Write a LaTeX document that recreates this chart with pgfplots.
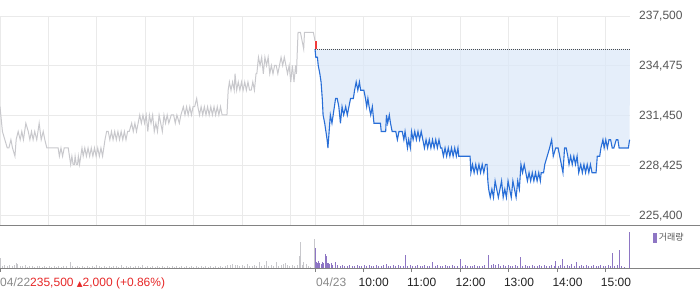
\documentclass[border=0pt]{standalone}
\usepackage{pgfplots}
\usepackage{pgfplotstable}
\pgfplotsset{compat=1.18}
\usepgfplotslibrary{fillbetween}
\usepackage{fontspec}
\setmainfont{Liberation Sans}
\newfontfamily\sym{DejaVu Sans}
\newfontfamily\kr{Noto Sans CJK KR}
\definecolor{gridc}{RGB}{234,234,234}
\definecolor{axisc}{RGB}{130,130,130}
\definecolor{graylinec}{RGB}{200,200,204}
\definecolor{bluec}{RGB}{40,110,215}
\definecolor{fillc}{RGB}{220,232,248}
\definecolor{redc}{RGB}{240,60,60}
\definecolor{volgray}{RGB}{200,200,204}
\definecolor{volpurple}{RGB}{142,118,196}
\definecolor{labelc}{RGB}{85,85,85}
\definecolor{dategray}{RGB}{136,136,136}
\definecolor{upred}{RGB}{230,40,40}
\definecolor{hourc}{RGB}{34,34,34}

% 04/22 price, x = minutes since 04/22 09:00
\pgfplotstableread{
m p
0 232000
3 230500
6 230000
9 229500
11 229500
13.5 230000
15.5 229500
18.5 229000
20 230000
22.5 230500
25 230000
27 230500
29 230000
32 231000
35 230500
37 230000
39 230500
41 230000
43 230500
45.5 230000
48.5 231000
51 230000
53.5 230500
55.5 230000
58 229500
72 229500
73.5 229000
75.5 229500
77.5 229000
79.5 229500
84.5 229500
87.5 228500
89 229000
90.5 228500
92 228500
93 229000
94.5 228500
96 228500
97 229000
98.5 228500
100 229000
101.5 229500
103 229000
105 229500
107 229000
109 229500
111 229000
113 229500
115 229000
117 229500
119 229000
121 229500
123 229000
125 229500
127 229000
130 230000
132 230500
134 230500
136 230000
138 230500
140 230000
142 230500
144 230000
146 230500
148 230000
150 230500
152 230000
154 230500
156 230000
158 230500
160 230500
163 231000
165 230500
167 231000
169 230500
171 231000
173 231500
175 231000
177 231500
179 231000
181 231500
183 230500
185 231500
187 231000
189 231500
191 230500
193 231000
195 230500
197 231500
199 231000
201 230500
203 231500
205 231000
207 231500
209 231000
212 231500
215 231500
217 231000
219 231500
222 231000
224 231500
227 232000
229 231500
231 232000
233 231500
235 232000
237 231500
239 232000
241 232000
243.5 232500
245 232000
247 231500
249 232000
251 231500
253 232000
255 231500
257 232000
259 231500
261 232000
263 231500
265 232000
267 231500
269 232000
271 231500
273 232000
275 231500
281 231500
282.5 233000
284 233500
286 233000
288 233500
290 233000
291 234000
293 233000
295 233500
297 233000
299 233500
301 233000
303 233500
305 233000
307 233500
309 233000
311 233000
313 233500
315 233000
317 234000
318 234000
320 235000
322 234500
324 235000
326 234000
328 235000
330 234500
332 235000
334 234000
336 234500
338 234000
340 234500
342 234500
344 234000
346 234500
348 235000
350 234500
352 235000
354 234500
356 234000
358 234500
360 233500
362 234500
364 233500
366 234500
367 234000
369 236500
372 236500
374 236000
376 235500
377 236500
380 236500
388 236500
390 236000
}\dayone

% 04/23 price
\pgfplotstableread{
m p
390 235500
391 235000
393 235000
394 234500
396 234000
397.5 233500
399 232500
400 231500
402 231000
403.5 230500
405 230000
406 229500
407.5 230500
409 231500
411 231000
412.5 231500
414 232000
415.5 232500
417.5 232500
419.5 232000
421.5 231000
423.5 232000
425.5 231500
428 232000
430 231500
432 232000
434 232500
437.5 232500
439 233000
441 233500
443 233000
445 233500
446.5 233000
450.5 233000
452.5 232500
454 232000
455.5 232500
457 232000
459 231500
461 232000
463 231000
471 231000
472 230500
477.5 230500
478.5 231500
480 231000
482 231500
483.5 231000
485.5 230500
490 230500
492 230000
494 230500
498 230500
500 230000
501.5 230500
503 230000
504.5 229500
506 230000
508 229500
509.5 230500
511.5 230000
513.5 230500
515.5 230000
517.5 230500
519.5 230000
521.5 230500
523.5 230000
525.5 229500
527.5 230000
529.5 229500
531.5 230000
533.5 229500
535.5 230000
537.5 229500
539.5 230000
541.5 229500
543.5 230000
545.5 229500
547 229500
549 229000
551 229500
553 229000
555 229500
557 229000
559 229500
561 229000
563 229500
565 229000
567 229500
568 229000
582 229000
583 228000
585 228500
587 228000
589 228500
591 228000
593 228500
595 228000
597 228500
599 228000
601 228500
603 228500
604 227500
605 227000
607 226500
609 227000
611 226500
613 227500
615 227000
617 226500
619 227000
621 227500
623 226500
625 227000
627 226500
629 227500
631 227000
633 226500
635 227500
637 227000
639 226500
641 227500
643 227000
645 228500
647 228000
649 228500
651 228000
653 227500
655 228000
657 227500
659 228000
661 227500
663 228000
665 227500
667 228000
669 227500
670 228000
673 228000
674.5 228500
677.5 229000
680.5 229500
683 230000
685 229000
688 229500
691 229500
693 229000
695 228500
697 228000
699 229500
701 229500
703 229000
704.5 228500
706.5 229000
708.5 228500
710.5 229000
712.5 228500
714.5 229000
716.5 228000
719 228500
721 228000
723 228500
725 228000
727 228500
729 228000
731 228500
733 228000
738 228000
739.5 229000
742.5 229000
744 229500
746.5 230000
748 229500
750 230000
752 229500
754 230000
756 230000
758 229500
760 229500
763 230000
765 230000
766.5 229500
778 229500
779.5 230000
}\daytwo

% volume, 04/22
\pgfplotstableread{
m v
0 10
3 2
6 3
9 2
12 3
15 2
18 3
20 5
22 4
25 2
28 2
31 3
34 1
37 2
40 2
43 1
46 2
49 2
52 1
55 2
58 1
61 2
64 1
67 2
70 1
73 2
76 1
79 2
82 2
87 6
90 2
93 1
96 2
99 1
102 2
105 1
108 2
111 1
114 2
117 1
120 3
123 2
126 1
129 2
132 1
135 2
138 1
141 2
144 2
147 1
150 3
153 1
156 2
159 1
162 2
165 1
168 2
171 2
174 1
177 3
180 1
183 2
186 1
189 2
192 1
195 2
198 1
201 2
204 1
207 2
210 1
213 2
216 1
219 2
222 1
225 2
228 1
231 2
234 1
237 2
240 1
243 2
246 1
249 2
252 1
255 2
258 1
261 2
264 1
267 2
270 1
273 2
276 1
279 2
282 3
285 3
288 4
291 3
294 3
297 2
300 3
303 2
306 4
309 2
312 2
315 3
318 2
321 6
324 2
327 3
330 7
333 2
336 3
339 2
342 6
345 2
348 3
351 4
353 5
356 3
359 2
362 3
365 2
368 3
370.5 12
372 26
374 3
376 6
379 4
382 2
385 1
389 29
}\volone

% volume, 04/23
\pgfplotstableread{
m v
390 20
391.5 6
393 5
394.5 7
396 5
397.5 4
399 6
400.5 5
402.5 14
404 12
405.5 5
407 5
408.5 4
410 5
412 3
415 6
418 3
421 2
424 3
427 2
430 2
433 3
436 2
439 2
442 3
445 2
448 2
451 3
454 2
457 3
460 2
463 2
466 3
469 2
472 2
475 3
478.5 4
481 2
484 2
487 3
490 2
493 3
496 2
499 2
502.5 13
505 2
508 3
511 2
514 2
517 3
520 2
523 2
526 3
529 2
532 2
536 6
539 2
542 3
545 2
548 2
551 3
554 2
557 2
560 3
563 2
566 2
570 9
573 2
576 3
579 2
582 2
585 2
588 3
591 2
594 2
597 2
600 3
605 13
608 3
611 4
614 3
617 4
620 2
623 3
626 2
629 3
632 2
635 2
638 3
641 2
644.5 11
647 2
650 3
653 2
656 2
659 3
662 2
665 2
668 3
671 2
674 3
677 2
680 2
683 3
686 2
688 7
691 2
694 3
696 9
699 2
702 3
705 2
708 4
711 2
714 6
717 2
720 3
723 2
726 3
729 2
732 2
735 3
738 2
741 2
744 3
747 2
750 2
753 3
756 2
758 15
761 2
764 3
767 18
770 2
773 1
779 36
}\voltwo

\begin{document}
\begin{tikzpicture}
% price panel
\begin{axis}[
  at={(0pt,64pt)}, anchor=south west, scale only axis,
  width=630pt, height=209pt,
  xmin=0, xmax=780, ymin=224830, ymax=237500,
  axis line style={draw=none},
  major tick length=0pt,
  scaled y ticks=false,
  xtick={0,60,120,180,240,300,360,390,450,510,570,630,690,750},
  xticklabel=\empty,
  ytick={225400,228425,231450,234475,237500},
  yticklabels={{225,400},{228,425},{231,450},{234,475},{237,500}},
  yticklabel pos=right,
  yticklabel style={anchor=west, inner sep=0pt, xshift=9pt, text=labelc,
    font=\fontsize{12}{14}\selectfont},
  grid=major,
  grid style={gridc, line width=0.9pt},
]
\addplot[name path=bluep, draw=none, forget plot] table[x=m,y=p]{\daytwo};
\addplot[name path=base, draw=none, forget plot] coordinates {(390,235500) (780,235500)};
\addplot[fill=fillc, fill opacity=0.75, draw=none, forget plot] fill between[of=bluep and base];
\addplot[graylinec, line width=1pt, forget plot] table[x=m,y=p]{\dayone};
\addplot[bluec, line width=1.1pt, forget plot] table[x=m,y=p]{\daytwo};
\addplot[black!70, line width=0.8pt, dash pattern=on 1pt off 1pt, forget plot] coordinates {(390,235500) (780,235500)};
\addplot[redc, line width=2.6pt, forget plot] coordinates {(391.3,235500) (391.3,236000)};
\end{axis}
\draw[axisc, line width=1pt] (0pt,64pt) -- (700pt,64pt);
\draw[axisc, line width=1pt] (0pt,21pt) -- (700pt,21pt);
% volume panel
\begin{axis}[
  at={(0pt,21pt)}, anchor=south west, scale only axis,
  width=630pt, height=42pt,
  xmin=0, xmax=780, ymin=0, ymax=42,
  axis line style={draw=none},
  ytick=\empty,
  xtick={0,390,450,510,570,630,690,750},
  xtick pos=left,
  tick align=outside,
  major tick length=4pt,
  xtick style={axisc, line width=1pt},
  xticklabels={
    {\hspace*{5pt}\textcolor{dategray}{04/22}\textcolor{upred}{235,500 {\sym\fontsize{7.5}{9}\selectfont ▲}2,000 (+0.86\%)}},
    {\hspace*{6pt}\textcolor{dategray}{04/23}},
    10:00, 11:00, 12:00, 13:00, 14:00, 15:00},
  xticklabel style={anchor=base west, inner sep=0pt, xshift=-5pt, yshift=-14.5pt,
    text=hourc, font=\fontsize{12}{14}\selectfont},
  legend style={at={(1.036,0.714)}, anchor=west, draw=none, fill=none,
    inner sep=0pt, font=\kr\fontsize{9}{10}\selectfont, text=labelc},
  legend image code/.code={\fill[volpurple] (0pt,-4.3pt) rectangle (3pt,4.3pt);},
]
\addplot[ycomb, volgray, line width=1pt, mark=none, forget plot] table[x=m,y=v]{\volone};
\addplot[ycomb, volpurple, line width=1pt, mark=none] table[x=m,y=v]{\voltwo};
\addlegendentry{거래량}
\end{axis}
\pgfresetboundingbox
\useasboundingbox (0pt,0pt) rectangle (700pt,289pt);
\end{tikzpicture}
\end{document}
